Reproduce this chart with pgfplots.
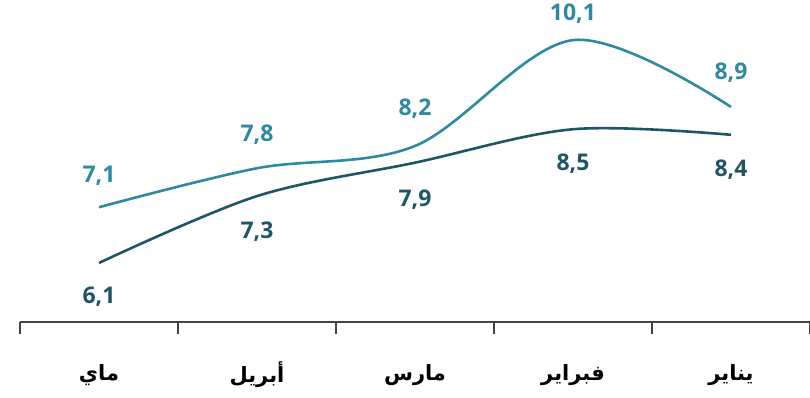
\documentclass[border=0pt]{standalone}
\usepackage{pgfplots}
\usepackage{pgfplotstable}
\pgfplotsset{compat=1.18}
\usepackage{fontspec}
\setmainfont{Open Sans}
\newfontfamily\arabicfont[Script=Arabic]{DejaVu Sans}
\TeXXeTstate=1
\definecolor{lightteal}{RGB}{46,138,160}
\definecolor{darkteal}{RGB}{30,86,102}
\definecolor{axisgray}{RGB}{68,68,68}

% x, value, label offset (pt)
\pgfplotstableread{
x y off
0 7.1 31
1 7.8 34
2 8.2 37
3 10.1 26
4 8.9 34
}\upperdata
\pgfplotstableread{
x y off
0 6.1 -34
1 7.3 -36
2 7.9 -37
3 8.5 -34
4 8.4 -35
}\lowerdata

\begin{document}
\begin{tikzpicture}
\useasboundingbox (-20pt,-75pt) rectangle (790pt,322pt);
\begin{axis}[
  scale only axis,
  width=790pt, height=322pt,
  xmin=-0.5, xmax=4.5,
  ymin=5.04, ymax=10.82,
  axis y line=none,
  axis x line*=bottom,
  x axis line style={-, draw=axisgray, line width=1.6pt},
  xtick={-0.5,0.5,...,4.5},
  xticklabels={},
  tick align=outside,
  major tick length=12pt,
  every tick/.style={draw=axisgray, line width=1.1pt},
  extra x ticks={0,1,2,3,4},
  extra x tick style={major tick length=0pt},
  extra x tick labels={
    {\arabicfont\bfseries\beginR ماي\endR},
    {\arabicfont\bfseries\beginR أبريل\endR},
    {\arabicfont\bfseries\beginR مارس\endR},
    {\arabicfont\bfseries\beginR فبراير\endR},
    {\arabicfont\bfseries\beginR يناير\endR}},
  xticklabel style={font=\fontsize{21}{24}\selectfont, anchor=center, yshift=-53pt},
  clip=false,
  nodes near coords,
  point meta=y,
  visualization depends on={\thisrow{off} \as \laboff},
  /pgf/number format/.cd, use comma, fixed, fixed zerofill, precision=1, assume math mode=true,
]
% light series, labels above the curve
\addplot[color=lightteal, line width=2.6pt, smooth, tension=0.55, mark=none,
  every node near coord/.style={anchor=center, yshift=\laboff pt, text=lightteal,
    font=\fontsize{23}{26}\selectfont\bfseries}]
  table[x=x, y=y] {\upperdata};
% dark series, labels below the curve
\addplot[color=darkteal, line width=2.6pt, smooth, tension=0.55, mark=none,
  every node near coord/.style={anchor=center, yshift=\laboff pt, text=darkteal,
    font=\fontsize{23}{26}\selectfont\bfseries}]
  table[x=x, y=y] {\lowerdata};
\end{axis}
\end{tikzpicture}
\end{document}
